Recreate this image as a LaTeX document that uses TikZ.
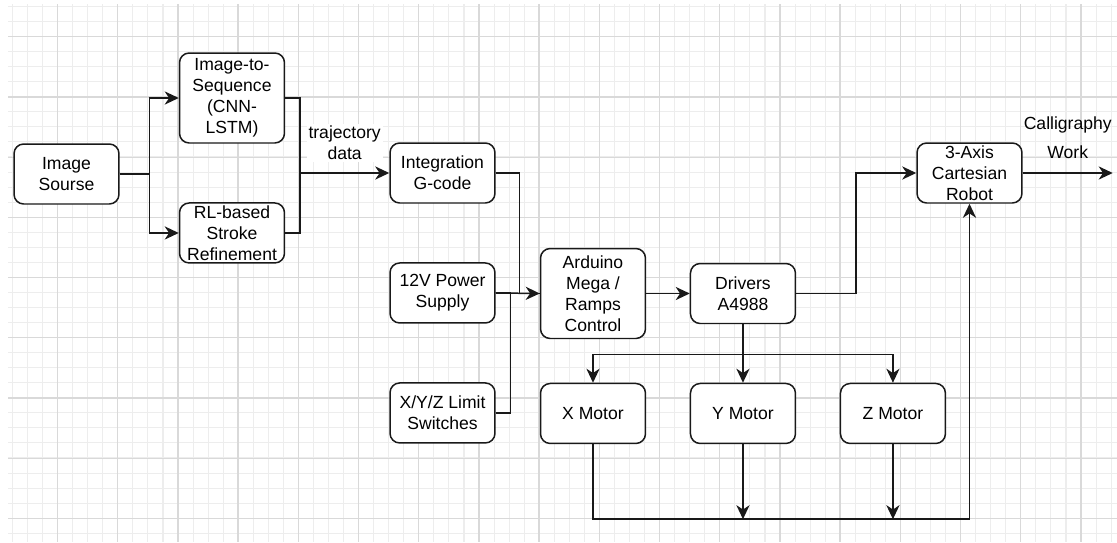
\documentclass[tikz,border=0pt]{standalone}
\usepackage{fontspec}
\setmainfont{Liberation Sans}
\usetikzlibrary{positioning,arrows.meta}

\tikzset{
  block/.style={draw=black!90, line width=0.85pt, rounded corners=5.5pt, fill=white,
    minimum width=2.1cm, minimum height=1.2cm, inner sep=0pt, align=center,
    font=\fontsize{10}{11.9}\selectfont},
  tall/.style={block, minimum height=1.8cm},
  wire/.style={line width=0.85pt, draw=black!90},
  arr/.style={wire, -{Stealth[length=8pt,width=7.5pt,inset=2.5pt]}},
  lbl/.style={align=center, font=\fontsize{10}{11.9}\selectfont},
  gridminor/.style={line width=0.6pt, draw=black!7},
  gridmajor/.style={line width=0.7pt, draw=black!15},
}

\begin{document}
\begin{tikzpicture}[x=0.02cm, y=-0.02cm, node distance=2.4cm and 3cm, on grid]
\useasboundingbox (0,0) rectangle (1117,542);
% grid paper
\begin{scope}
\clip (8,4) rectangle (1117,542);
\foreach \i in {0,...,73} \draw[gridminor] ({12.5+15.05*\i},4) -- ++(0,538);
\foreach \i in {0,...,35} \draw[gridminor] (8,{6.5+15.05*\i}) -- ++(1109,0);
\foreach \i in {0,...,17} \draw[gridmajor] ({57.5+60.2*\i},4) -- ++(0,538);
\foreach \i in {0,...,8} \draw[gridmajor] (8,{36.8+60.2*\i}) -- ++(1109,0);
\end{scope}

% blocks
\node[block] (src) at (66.5,174) {Image\\Sourse};
\node[tall] (seq) at (232,98) {Image-to-\\Sequence\\(CNN-\\LSTM)};
\node[block, below=2.7cm of seq] (rl) {RL-based\\Stroke\\Refinement};
\node[block] (integ) at (442.5,173) {Integration\\G-code};
\node[block, below=of integ] (power) {12V Power\\Supply};
\node[block, below=of power] (limit) {X/Y/Z Limit\\Switches};
\node[tall] (ard) at (593,293.5) {Arduino\\Mega /\\Ramps\\Control};
\node[block, right=of ard] (drv) {Drivers\\A4988};
\node[block, below=of ard] (xm) {X Motor};
\node[block, right=of xm] (ym) {Y Motor};
\node[block, right=of ym] (zm) {Z Motor};
\node[block] (robot) at (969.5,173) {3-Axis\\Cartesian\\Robot};

% connectors
\coordinate (merge) at (300,173);
\draw[arr] (src.east) -- ++(30,0) |- (seq.west);
\draw[arr] (src.east) -- ++(30,0) |- (rl.west);
\draw[wire] (seq.east) -| (merge);
\draw[wire] (rl.east) -| (merge);
\draw[arr] (merge) -- (integ.west)
  node[lbl, midway, yshift=17pt, fill=white, inner sep=1pt] {trajectory\\data};
\draw[wire] (integ.east) -- ++(24,0) |- (ard.west);
\draw[wire] (limit.east) -- ++(15,0) |- (power.east);
\draw[arr] (power.east) -- (ard.west);
\draw[arr] (ard.east) -- (drv.west);
\draw[arr] (drv.east) -- ++(60,0) |- (robot.west);
\draw[arr] (robot.east) -- ++(90,0)
  node[midway, yshift=20pt, align=center, font=\fontsize{10}{16.4}\selectfont] {Calligraphy\\Work};
\draw[arr] (drv.south) -- (ym.north);
\draw[arr] (drv.south) ++(0,30) -| (xm.north);
\draw[arr] (drv.south) ++(0,30) -| (zm.north);
\draw[arr] (xm.south) -- ++(0,75) -| (robot.south);
\draw[arr] (ym.south) -- ++(0,75);
\draw[arr] (zm.south) -- ++(0,75);
\end{tikzpicture}
\end{document}
